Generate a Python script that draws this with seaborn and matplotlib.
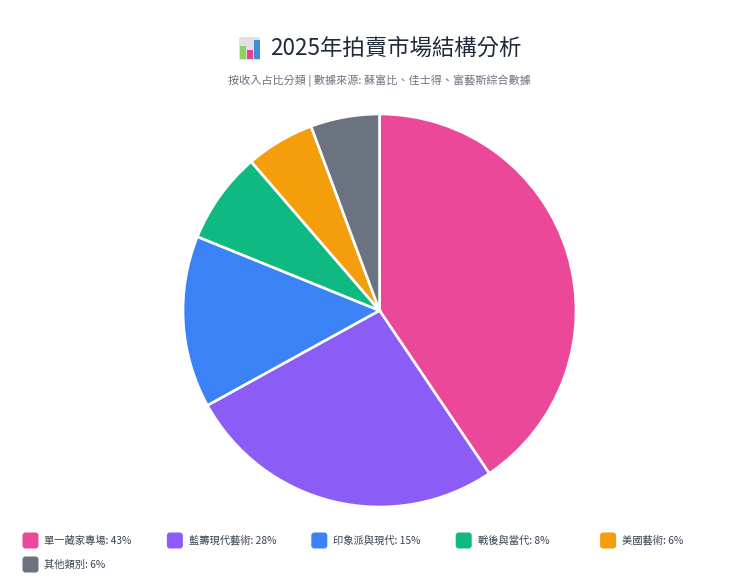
import matplotlib
matplotlib.use("Agg")
import matplotlib.pyplot as plt
import seaborn as sns
from matplotlib.patches import FancyBboxPatch, Rectangle

categories = ["單一藏家專場", "藍籌現代藝術", "印象派與現代", "戰後與當代", "美國藝術", "其他類別"]
shares = [43, 28, 15, 8, 6, 6]
colors = ["#ec4899", "#8b5cf6", "#3b82f6", "#10b981", "#f59e0b", "#6b7280"]
title = "2025年拍賣市場結構分析"
subtitle = "按收入占比分類 | 數據來源: 蘇富比、佳士得、富藝斯綜合數據"

sns.set_theme(style="white")
plt.rcParams["font.family"] = ["Noto Sans CJK TC", "DejaVu Sans"]

W, H = 740, 585
fig = plt.figure(figsize=(W / 100, H / 100), dpi=100, facecolor="white")

# pie axes, centre (379, 310) radius 196 in pixels
cx, cy, r = 379.5, 310.5, 196.5
ax = fig.add_axes([(cx - r) / W, 1 - (cy + r) / H, 2 * r / W, 2 * r / H])
ax.pie(shares, colors=sns.color_palette(colors), startangle=90, counterclock=False,
       wedgeprops={"edgecolor": "white", "linewidth": 1.9}, radius=1)
ax.set_xlim(-1, 1)
ax.set_ylim(-1, 1)
ax.axis("off")

# overlay in pixel coordinates for title and legend
ov = fig.add_axes([0, 0, 1, 1], facecolor="none")
ov.set_xlim(0, W)
ov.set_ylim(H, 0)
ov.axis("off")

ov.text(270, 48.5, title, fontsize=16.15, color="#1f2937", va="center", ha="left")
ov.text(379, 80.5, subtitle, fontsize=8.0, color="#6b7280", va="center", ha="center")

# bar chart icon in front of the title
ov.add_patch(FancyBboxPatch((239, 37), 21, 23, boxstyle="round,pad=0,rounding_size=2",
                            fc="#dfe1e6", ec="none"))
ov.add_patch(Rectangle((240, 46), 5.5, 13, fc="#8bd35c", ec="none"))
ov.add_patch(Rectangle((247, 50), 5.5, 9, fc="#ec3f8c", ec="none"))
ov.add_patch(Rectangle((254, 40), 5.5, 19, fc="#3f8fd8", ec="none"))

# legend wraps after five entries
for i, (name, val, col) in enumerate(zip(categories, shares, colors)):
    x = 22.5 + 144.4 * (i % 5)
    y = 540.5 + 24 * (i // 5)
    ov.add_patch(FancyBboxPatch((x, y - 8), 16, 16, boxstyle="round,pad=0,rounding_size=3",
                                fc=col, ec="none"))
    ov.text(x + 22, y, f"{name}: {val}%", fontsize=7.4, color="#374151", va="center", ha="left")

fig.savefig("out.png", dpi=100)
